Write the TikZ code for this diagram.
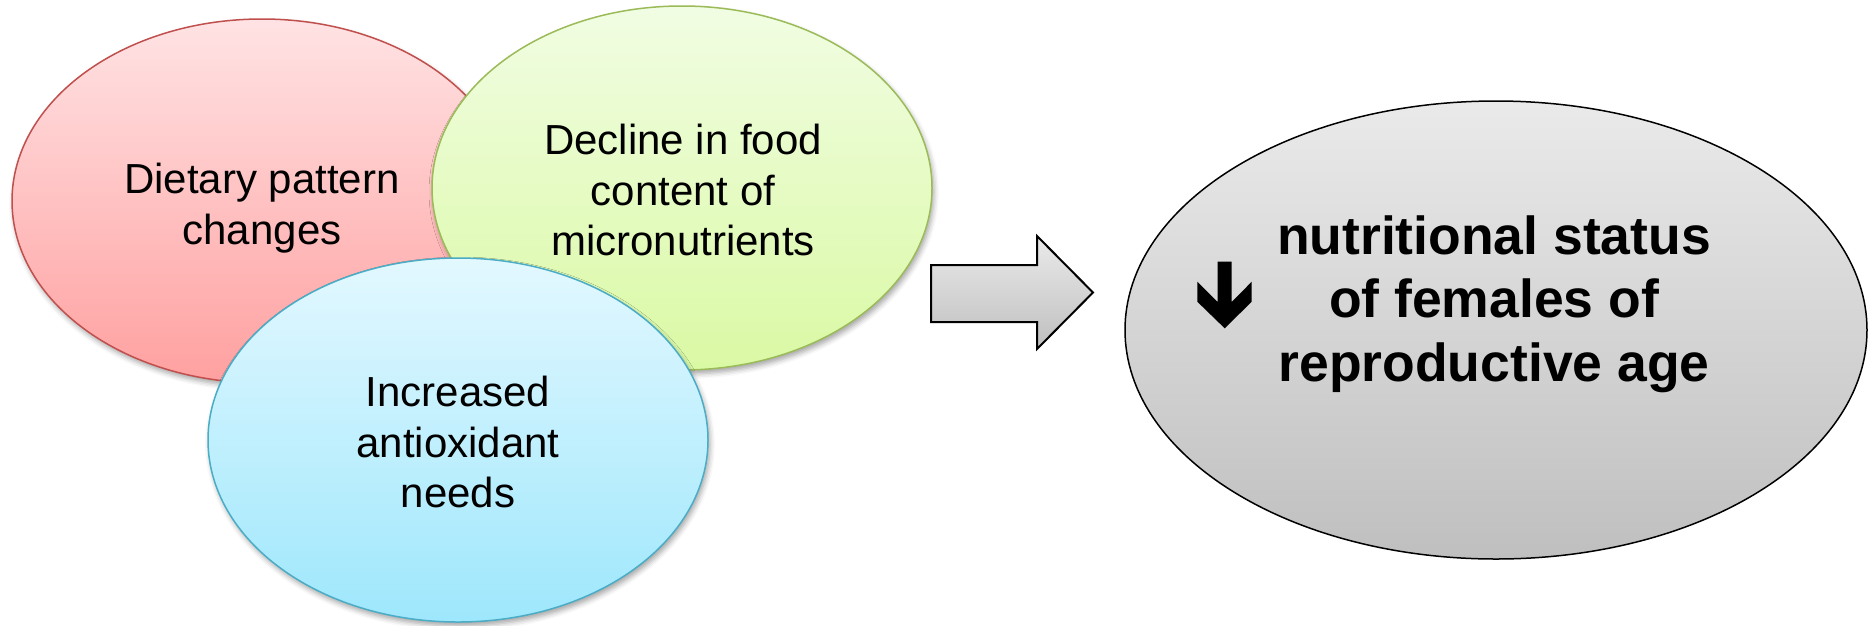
\documentclass[tikz,border=0pt]{standalone}
\usepackage{fontspec}
\setmainfont{Liberation Sans}
\usetikzlibrary{shapes.geometric,shadows.blur}

% Office-like palette
\definecolor{redline}{HTML}{C0504D}
\definecolor{redtop}{HTML}{FFE3E4}
\definecolor{redbot}{HTML}{FFA0A0}
\definecolor{greenline}{HTML}{9BBB59}
\definecolor{greentop}{HTML}{F1FDE3}
\definecolor{greenbot}{HTML}{DAF9A4}
\definecolor{blueline}{HTML}{4BACC6}
\definecolor{bluetop}{HTML}{E3F8FF}
\definecolor{bluebot}{HTML}{9EE7FC}
\definecolor{greytop}{HTML}{EAEAEA}
\definecolor{greybot}{HTML}{BFBFBF}

\tikzset{
  bubble/.style={ellipse, minimum width=500pt, minimum height=364pt, inner sep=0pt,
    line width=1.5pt,
    blur shadow={shadow xshift=2pt, shadow yshift=-4pt, shadow blur radius=5pt, shadow opacity=35}},
  causetext/.style={align=center, font=\fontsize{42}{50.5}\selectfont, inner sep=0pt},
  resulttext/.style={align=center, font=\bfseries\fontsize{53.5}{63.5}\selectfont, inner sep=0pt},
  blockarrow/.style={draw=black, line width=2pt, line join=miter, top color=greytop, bottom color=greybot},
  outcome/.style={ellipse, minimum width=742pt, minimum height=458pt, inner sep=0pt,
    draw=black, line width=1.5pt, top color=greytop, bottom color=greybot}
}

\begin{document}
\begin{tikzpicture}[x=1pt,y=-1pt]
\useasboundingbox (0,0) rectangle (1868,625);

% three overlapping causes
\node[bubble, draw=redline, top color=redtop, bottom color=redbot] (diet) at (262,201) {};
\node[causetext] (diettext) at (262,208) {Dietary pattern\\changes};

\node[bubble, draw=greenline, top color=greentop, bottom color=greenbot] (decline) at (682,188) {};
\node[causetext] (declinetext) at (683,190) {Decline in food\\content of\\micronutrients};

\node[bubble, draw=blueline, top color=bluetop, bottom color=bluebot] (needs) at (458,440) {};
\node[causetext] (needstext) at (458,442) {Increased\\antioxidant\\needs};

% block arrow towards the outcome
\path[blockarrow] (931,265) -- (1037,265) -- (1037,236) -- (1093,292.5)
  -- (1037,349) -- (1037,322) -- (931,322) -- cycle;

% outcome
\node[outcome] (status) at (1496,330) {};
\node[resulttext] (statustext) at (1494,304) {nutritional status\\of females of\\reproductive age};

% downward arrow sign
\fill[black] (1217.7,261.7) -- (1231.7,261.7) -- (1231.7,302) -- (1251.7,281.7)
  -- (1251.7,301.7) -- (1224.7,328.3) -- (1197.3,301.7) -- (1197.3,281.7)
  -- (1217.7,302) -- cycle;
\end{tikzpicture}
\end{document}
